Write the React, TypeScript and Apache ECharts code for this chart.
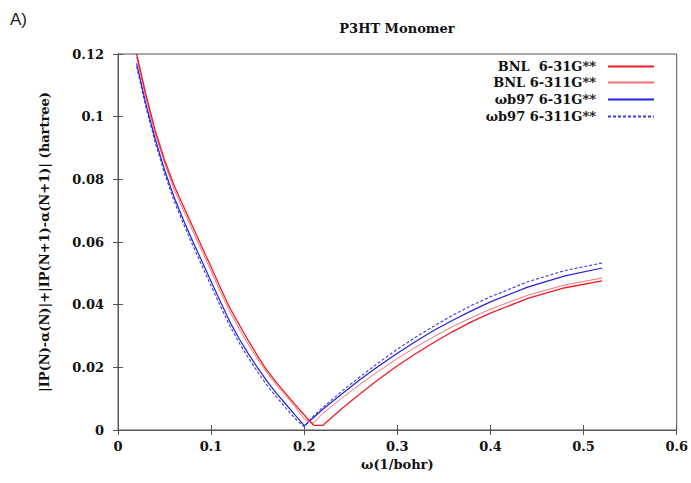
import React, { useEffect, useRef } from "react";
import * as echarts from "echarts";

const omega = [
  0.02, 0.03, 0.04, 0.05, 0.06, 0.07, 0.08, 0.09, 0.1, 0.11, 0.12, 0.13, 0.14, 0.15, 0.16, 0.17, 0.18, 0.19, 0.2,
  0.21, 0.22, 0.24, 0.26, 0.28, 0.3, 0.32, 0.34, 0.36, 0.38, 0.4, 0.44, 0.48, 0.52,
];

const bnl631 = [
  0.12, 0.107, 0.0955, 0.0862, 0.0782, 0.0716, 0.065, 0.0585, 0.052, 0.0454, 0.039, 0.0337, 0.0285, 0.0236, 0.019,
  0.0152, 0.0117, 0.0082, 0.0048, 0.0015, 0.0015, 0.0067, 0.0116, 0.0162, 0.0205, 0.0244, 0.0281, 0.0315, 0.0346,
  0.0373, 0.042, 0.0454, 0.0476,
];

const bnl6311 = [
  0.119, 0.106, 0.0945, 0.0852, 0.077, 0.0703, 0.0637, 0.0572, 0.0507, 0.0441, 0.0378, 0.0324, 0.0273, 0.0226, 0.0182,
  0.0145, 0.011, 0.0075, 0.0035, 0.0022, 0.0053, 0.0101, 0.0146, 0.0188, 0.0228, 0.0265, 0.0299, 0.0331, 0.0359,
  0.0386, 0.043, 0.0463, 0.0485,
];

const wb97631 = [
  0.117, 0.104, 0.0928, 0.083, 0.0745, 0.0672, 0.0604, 0.0539, 0.0474, 0.0409, 0.0346, 0.0292, 0.0243, 0.0198, 0.0156,
  0.0118, 0.0083, 0.0048, 0.0014, 0.004, 0.0066, 0.0114, 0.0161, 0.0204, 0.0245, 0.0283, 0.0319, 0.0351, 0.0381,
  0.0409, 0.0456, 0.0492, 0.0517,
];

const wb976311 = [
  0.116, 0.103, 0.0918, 0.0818, 0.0733, 0.066, 0.0591, 0.0525, 0.046, 0.0395, 0.0333, 0.0279, 0.023, 0.0185, 0.0143,
  0.0106, 0.0071, 0.0037, 0.001, 0.0045, 0.0072, 0.0123, 0.017, 0.0215, 0.0258, 0.0297, 0.0333, 0.0367, 0.0398,
  0.0425, 0.0473, 0.0509, 0.0533,
];

const seriesNames = ["BNL  6-31G**", "BNL 6-311G**", "\u03c9b97 6-31G**", "\u03c9b97 6-311G**"];
const xTicks = [0, 0.1, 0.2, 0.3, 0.4, 0.5, 0.6];
const yTicks = [0, 0.02, 0.04, 0.06, 0.08, 0.1, 0.12];

const SERIF = "DejaVu Serif";

export default function App() {
  const ref = useRef<HTMLDivElement>(null);
  useEffect(() => {
    if (!ref.current) return;
    const chart = echarts.init(ref.current, null, { renderer: "svg" });
    const zip = (vals: number[]) => omega.map((x, i) => [x, vals[i]]);
    const styles = [
      { color: "#ee1c25", width: 1.3, type: "solid" },
      { color: "#f0707a", width: 1, type: "solid" },
      { color: "#2222dd", width: 1.2, type: "solid" },
      { color: "#3a3ae0", width: 1.1, type: [3, 2] },
    ];
    const datas = [bnl631, bnl6311, wb97631, wb976311];
    const labelFont = { fontFamily: SERIF, fontWeight: "bold" as const, fontSize: 13, color: "#111" };
    const legendTops = [60, 76, 93, 110];
    const axisCommon = {
      axisLine: { show: true, lineStyle: { color: "#555", width: 1 } },
      axisTick: { show: true, inside: true, length: 5, lineStyle: { color: "#555" } },
      splitLine: { show: false },
    };
    chart.setOption({
      animation: false,
      backgroundColor: "#fff",
      grid: { left: 118, right: 14, top: 54, bottom: 53, show: true, borderColor: "#555", borderWidth: 1 },
      graphic: [
        {
          type: "text",
          left: 10,
          top: 11,
          style: { text: "A)", fontFamily: "Liberation Sans Narrow, Liberation Sans", fontSize: 17, fill: "#222" },
        },
        {
          type: "text",
          x: 397,
          y: 22,
          style: {
            text: "P3HT Monomer",
            fontFamily: SERIF,
            fontWeight: "bold",
            fontSize: 13,
            fill: "#111",
            textAlign: "center",
          },
        },
      ],
      legend: seriesNames.map((n, i) => ({
        data: [n],
        right: 36,
        top: legendTops[i],
        padding: 0,
        align: "right",
        itemWidth: 46,
        itemHeight: 10,
        selectedMode: false,
        itemStyle: { opacity: 0 },
        textStyle: { ...labelFont, padding: [0, 7, 0, 0] },
      })),
      xAxis: [
        {
          type: "value",
          min: 0,
          max: 0.6,
          interval: 0.1,
          name: "\u03c9(1/bohr)",
          nameLocation: "middle",
          nameGap: 25,
          nameTextStyle: { ...labelFont, fontSize: 13 },
          axisLabel: {
            ...labelFont,
            margin: 10,
            formatter: (v: number) => {
              const t = xTicks.find((k) => Math.abs(k - v) < 1e-9);
              return t === undefined ? "" : String(t);
            },
          },
          ...axisCommon,
        },
        {
          type: "value",
          position: "top",
          min: 0,
          max: 0.6,
          interval: 0.1,
          axisLabel: { show: false },
          ...axisCommon,
        },
      ],
      yAxis: [
        {
          type: "value",
          min: 0,
          max: 0.12,
          interval: 0.02,
          name: "|IP(N)-\u03b1(N)|+|IP(N+1)-\u03b1(N+1)| (hartree)",
          nameLocation: "middle",
          nameGap: 67,
          nameTextStyle: { ...labelFont },
          axisLabel: {
            ...labelFont,
            margin: 14,
            formatter: (v: number) => {
              const t = yTicks.find((k) => Math.abs(k - v) < 1e-9);
              return t === undefined ? "" : String(t);
            },
          },
          ...axisCommon,
        },
        {
          type: "value",
          position: "right",
          min: 0,
          max: 0.12,
          interval: 0.02,
          axisLabel: { show: false },
          ...axisCommon,
        },
      ],
      series: seriesNames.map((n, i) => ({
        name: n,
        type: "line",
        data: zip(datas[i]),
        showSymbol: false,
        symbol: "none",
        lineStyle: styles[i],
        itemStyle: { color: styles[i].color },
        z: 10 - i,
      })),
    });
    return () => chart.dispose();
  }, []);
  return <div ref={ref} style={{ width: 691, height: 483, position: "absolute", left: 0, top: 0 }} />;
}
